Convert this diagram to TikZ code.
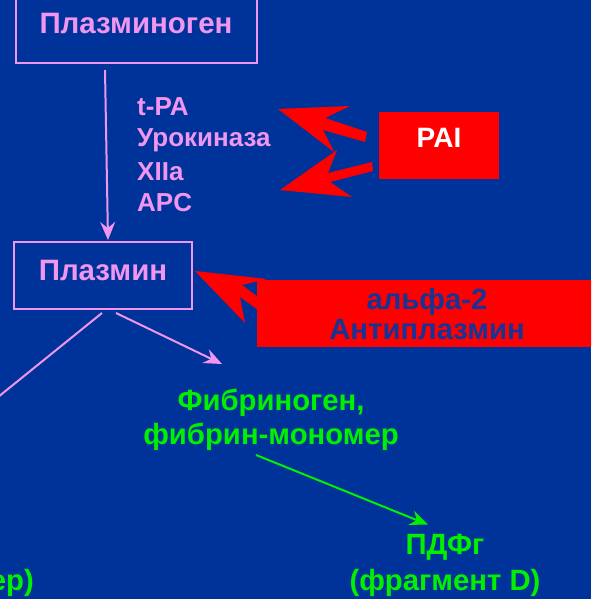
\documentclass[tikz,border=0pt]{standalone}
\usepackage{fontspec}
\setmainfont{Liberation Sans}
\usetikzlibrary{arrows.meta}
\definecolor{bg}{RGB}{0,51,153}
\definecolor{pk}{RGB}{240,150,240}
\definecolor{gr}{RGB}{0,240,0}
\definecolor{rd}{RGB}{255,0,0}
\definecolor{dk}{RGB}{22,52,150}
\begin{document}
\begin{tikzpicture}[x=1pt,y=-1pt,
  box/.style={draw=pk,line width=2pt,inner sep=0pt},
  redbox/.style={fill=rd,inner sep=0pt},
  title/.style={text=pk,font=\bfseries\fontsize{29.5}{30}\selectfont,inner sep=0pt},
  lab/.style={text=pk,font=\bfseries\fontsize{26}{32}\selectfont,anchor=west,inner sep=0pt},
  grt/.style={text=gr,font=\bfseries\fontsize{29.3}{34}\selectfont,align=center,inner sep=0pt},
  pkline/.style={draw=pk,line width=2pt},
  pkarrow/.style={pkline,-{Stealth[length=18pt,width=15pt,inset=6pt]}},
  grarrow/.style={draw=gr,line width=2pt,-{Stealth[length=18pt,width=15pt,inset=6pt]}}
]
\useasboundingbox (0,0) rectangle (591,599);
\fill[bg] (0,0) rectangle (591,599);
\clip (0,0) rectangle (591,599);

% boxes
\node[box,minimum width=241pt,minimum height=72pt] (pg) at (136.5,27) {};
\node[title] (pgt) at (136,23) {Плазминоген};
\node[box,minimum width=178pt,minimum height=67pt] (pl) at (103,275.5) {};
\node[title] (plt) at (103,270) {Плазмин};

% activators
\node[lab] (t1) at (137,107) {t-PA};
\node[lab] (t2) at (137,140) {Урокиназа};
\node[lab] (t3) at (137,172) {XIIa};
\node[lab] (t4) at (137,203) {APC};

% PAI
\node[redbox,minimum width=120pt,minimum height=67pt] (pai) at (439,145.5) {};
\node[text=white,font=\bfseries\fontsize{28}{30}\selectfont,inner sep=0pt] (pait) at (439,138) {PAI};
\fill[rd] (278,109) -- (350,106) -- (325,118) -- (367,132) -- (365,142) -- (323,130) -- (334,152) -- cycle;
\fill[rd] (280,190) -- (337,150) -- (328,173) -- (372,162) -- (373,171) -- (330,182) -- (352,197) -- cycle;

% alpha-2
\fill[rd] (195,271) -- (267,279) -- (242,285) -- (262,300) -- (258,310) -- (240,297) -- (245,323) -- cycle;
\node[redbox,minimum width=343pt,minimum height=67pt] (al) at (428.5,313.5) {};
\node[text=dk,font=\bfseries\fontsize{29.3}{28}\selectfont,inner sep=0pt] (alt1) at (427,302) {альфа-2};
\node[text=dk,font=\bfseries\fontsize{29.3}{28}\selectfont,inner sep=0pt] (alt2) at (427,330) {Антиплазмин};

% fibrinogen etc
\node[grt] (fib) at (271,420) {Фибриноген,\\фибрин-мономер};
\node[grt,font=\bfseries\fontsize{29.3}{36}\selectfont] (pdf) at (445,565) {ПДФг\\(фрагмент D)};
\node[text=gr,font=\bfseries\fontsize{29.3}{30}\selectfont,inner sep=0pt,anchor=east] (dd) at (34,583) {ер)};

% connectors
\draw[pkarrow] ([xshift=-31.5pt,yshift=-6pt]pg.south) -- ([xshift=5pt,yshift=1pt]pl.north);
\coordinate (lend) at (-20,411.6);
\draw[pkline] ([xshift=-1pt,yshift=-3pt]pl.south) -- (lend);
\draw[pkarrow] ([xshift=13pt,yshift=-3pt]pl.south) -- ([xshift=-49pt,yshift=25pt]fib.north);
\draw[grarrow] ([xshift=-15pt,yshift=-4pt]fib.south) -- ([xshift=-17pt,yshift=9pt]pdf.north);
\end{tikzpicture}
\end{document}
